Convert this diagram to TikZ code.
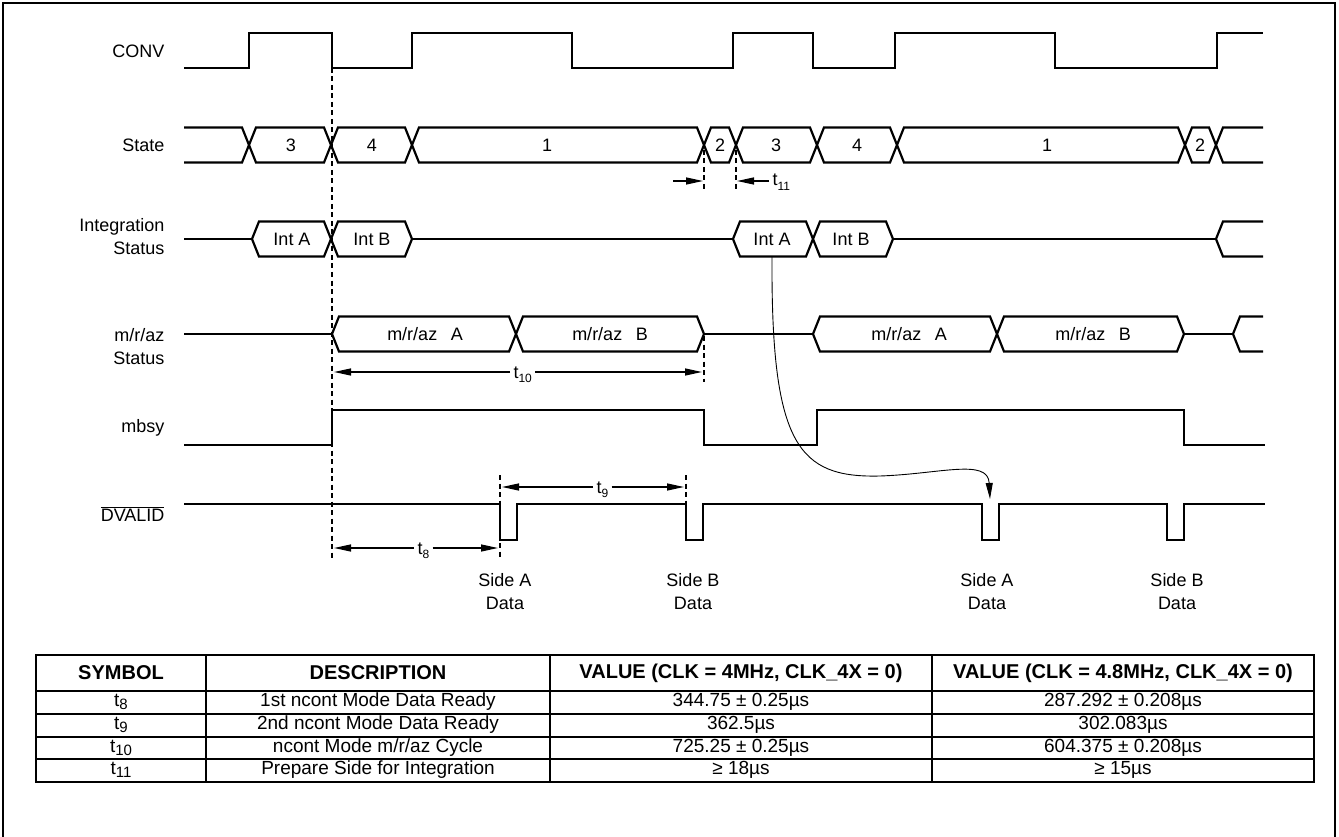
\documentclass[tikz,border=0pt]{standalone}
\usepackage{fontspec}
\setmainfont{Liberation Sans}
\usetikzlibrary{arrows.meta}

\newcommand{\tsub}[1]{t\raisebox{-4.5pt}{\fontsize{12}{12}\selectfont #1}}
\newcommand{\tcell}[1]{t\raisebox{-3pt}{\fontsize{15}{15}\selectfont #1}}

\tikzset{
  wave/.style={line width=2.2pt},
  guide/.style={line width=1.1pt, dash pattern=on 5pt off 3.5pt},
  dim/.style={line width=1.3pt, -{Triangle[length=17pt,width=7pt]}},
  lbl/.style={anchor=east, align=right},
  tlabel/.style={anchor=base west},
  cell/.style={font=\fontsize{19}{23}\selectfont},
  head/.style={font=\fontsize{20}{24}\selectfont\bfseries},
}

\begin{document}
\begin{tikzpicture}[x=1pt,y=-1pt,font=\fontsize{18}{23}\selectfont]
\useasboundingbox (0,0) rectangle (1339,837);
\draw[line width=2.2pt] (3,845) -- (3,3) -- (1335,3) -- (1335,845);

% signal names
\node[lbl] (conv) at (168,51) {CONV};
\node[lbl] (state) at (168,145) {State};
\node[lbl] (integ) at (168,237) {Integration\\Status};
\node[lbl] (mraz) at (168,347) {m/r/az\\Status};
\node[lbl] (mbsy) at (168,428) {mbsy};
\node[lbl] (dvalid) at (168,514) {$\overline{\mbox{DVALID}}$};

% CONV
\draw[wave] (184,68) -- (249,68) -- (249,33) -- (332,33) -- (332,68) -- (412,68) -- (412,33)
  -- (572,33) -- (572,68) -- (733,68) -- (733,33) -- (813,33) -- (813,68) -- (895,68)
  -- (895,33) -- (1055,33) -- (1055,68) -- (1217,68) -- (1217,33) -- (1263,33);

% State
\draw[wave] (184,127.5) -- (242,127.5) -- (249,145) -- (242,162.5) -- (184,162.5);
\foreach \a/\b/\s/\c in {249/331/3/291, 331/412/4/372, 412/704/1/547, 704/736/2/720,
    736/817/3/776, 817/897/4/857, 897/1185/1/1047, 1185/1216/2/1200}{
  \draw[wave] (\a,145) -- (\a+7,127.5) -- (\b-7,127.5) -- (\b,145) -- (\b-7,162.5) -- (\a+7,162.5) -- cycle;
  \node at (\c,145) {\s};
}
\draw[wave] (1263,127.5) -- (1223,127.5) -- (1216,145) -- (1223,162.5) -- (1263,162.5);

% Integration Status
\draw[wave] (184,239) -- (252,239);
\draw[line width=1.6pt] (412,239) -- (733,239);
\draw[line width=1.6pt] (893,239) -- (1216,239);
\foreach \a/\b in {252/331, 331/412, 733/813, 813/893}
  \draw[wave] (\a,239) -- (\a+7,221.5) -- (\b-7,221.5) -- (\b,239) -- (\b-7,256.5) -- (\a+7,256.5) -- cycle;
\draw[wave] (1263,221.5) -- (1223,221.5) -- (1216,239) -- (1223,256.5) -- (1263,256.5);
\node (inta1) at (292,239) {Int A};
\node (intb1) at (372,239) {Int B};
\node (inta2) at (772,239) {Int A};
\node (intb2) at (851,239) {Int B};

% m/r/az Status
\draw[wave] (184,334) -- (332,334);
\draw[wave] (704,334) -- (813,334);
\draw[wave] (1184,334) -- (1233,334);
\foreach \a/\b in {332/516, 516/704, 813/997, 997/1184}
  \draw[wave] (\a,334) -- (\a+7,316.5) -- (\b-7,316.5) -- (\b,334) -- (\b-7,351.5) -- (\a+7,351.5) -- cycle;
\draw[wave] (1263,316.5) -- (1240,316.5) -- (1233,334) -- (1240,351.5) -- (1263,351.5);
\node (mra1) at (425,334) {m/r/az\hspace{0.75em}A};
\node (mrb1) at (610,334) {m/r/az\hspace{0.75em}B};
\node (mra2) at (909,334) {m/r/az\hspace{0.75em}A};
\node (mrb2) at (1093,334) {m/r/az\hspace{0.75em}B};

% mbsy
\draw[wave] (184,445) -- (332,445) -- (332,410) -- (704,410) -- (704,445) -- (817,445)
  -- (817,410) -- (1184,410) -- (1184,445) -- (1265,445);

% DVALID
\draw[wave] (184,504) -- (500,504) -- (500,540) -- (517,540) -- (517,504) -- (686,504)
  -- (686,540) -- (703,540) -- (703,504) -- (982,504) -- (982,540) -- (999,540) -- (999,504)
  -- (1167,504) -- (1167,540) -- (1184,540) -- (1184,504) -- (1265,504);

% guides
\draw[guide] (332,68) -- (332,560);
\draw[guide] (704,150) -- (704,190);
\draw[guide] (736,150) -- (736,190);
\draw[guide] (704,336) -- (704,382);
\draw[guide] (500,475) -- (500,557);
\draw[guide] (686,475) -- (686,504);

% t11
\coordinate (t11a) at (673,181);
\coordinate (t11b) at (703,181);
\coordinate (t11c) at (737,181);
\node[tlabel] (t11) at (769,186) {\tsub{11}};
\draw[dim] (t11a) -- (t11b);
\draw[dim] (t11.west |- t11c) -- (t11c);

% t10
\coordinate (t10l) at (334,372);
\coordinate (t10r) at (702,372);
\node[tlabel] (t10) at (510,378) {\tsub{10}};
\draw[dim] (t10.west |- t10l) -- (t10l);
\draw[dim] (t10.east |- t10r) -- (t10r);

% t9
\coordinate (t9l) at (502,487);
\coordinate (t9r) at (684,487);
\node[tlabel] (t9) at (593,493) {\tsub{9}};
\draw[dim] (t9.west |- t9l) -- (t9l);
\draw[dim] (t9.east |- t9r) -- (t9r);

% t8
\coordinate (t8l) at (334,548);
\coordinate (t8r) at (498,548);
\node[tlabel] (t8) at (414,554) {\tsub{8}};
\draw[dim] (t8.west |- t8l) -- (t8l);
\draw[dim] (t8.east |- t8r) -- (t8r);

% Int A -> Side A data
\coordinate (dv) at (990,499);
\draw[line width=0.9pt, -{Triangle[length=16pt,width=7pt]}] (inta2.south |- 0,257)
  .. controls (771,445) and (798,478) .. (880,476) .. controls (940,474) and (988,458) .. (dv);

% data labels
\node[align=center] (sa1) at (505,592) {Side A\\Data};
\node[align=center] (sb1) at (693,592) {Side B\\Data};
\node[align=center] (sa2) at (987,592) {Side A\\Data};
\node[align=center] (sb2) at (1177,592) {Side B\\Data};

% table
\draw[line width=2pt] (36,655) rectangle (1314,782);
\foreach \x in {206,550,932}
  \draw[line width=2pt] (\x,655) -- (\x,782);
\foreach \y in {691,714,737,759}
  \draw[line width=1.6pt] (36,\y) -- (1314,\y);
\node[head] (hsym) at (121,673) {SYMBOL};
\node[head] (hdesc) at (378,673) {DESCRIPTION};
\node[head] (hval1) at (741,673) {VALUE (CLK = 4MHz, CLK\_4X = 0)};
\node[head] (hval2) at (1123,673) {VALUE (CLK = 4.8MHz, CLK\_4X = 0)};
\foreach \y/\s/\d/\v/\w in {702/8/{1st ncont Mode Data Ready}/{344.75 ± 0.25µs}/{287.292 ± 0.208µs},
    725/9/{2nd ncont Mode Data Ready}/{362.5µs}/{302.083µs},
    747.5/10/{ncont Mode m/r/az Cycle}/{725.25 ± 0.25µs}/{604.375 ± 0.208µs},
    770/11/{Prepare Side for Integration}/{≥ 18µs}/{≥ 15µs}}{
  \node[cell] at (121,\y) {\tcell{\s}};
  \node[cell] at (378,\y) {\d};
  \node[cell] at (741,\y) {\v};
  \node[cell] at (1123,\y) {\w};
}
\end{tikzpicture}
\end{document}
